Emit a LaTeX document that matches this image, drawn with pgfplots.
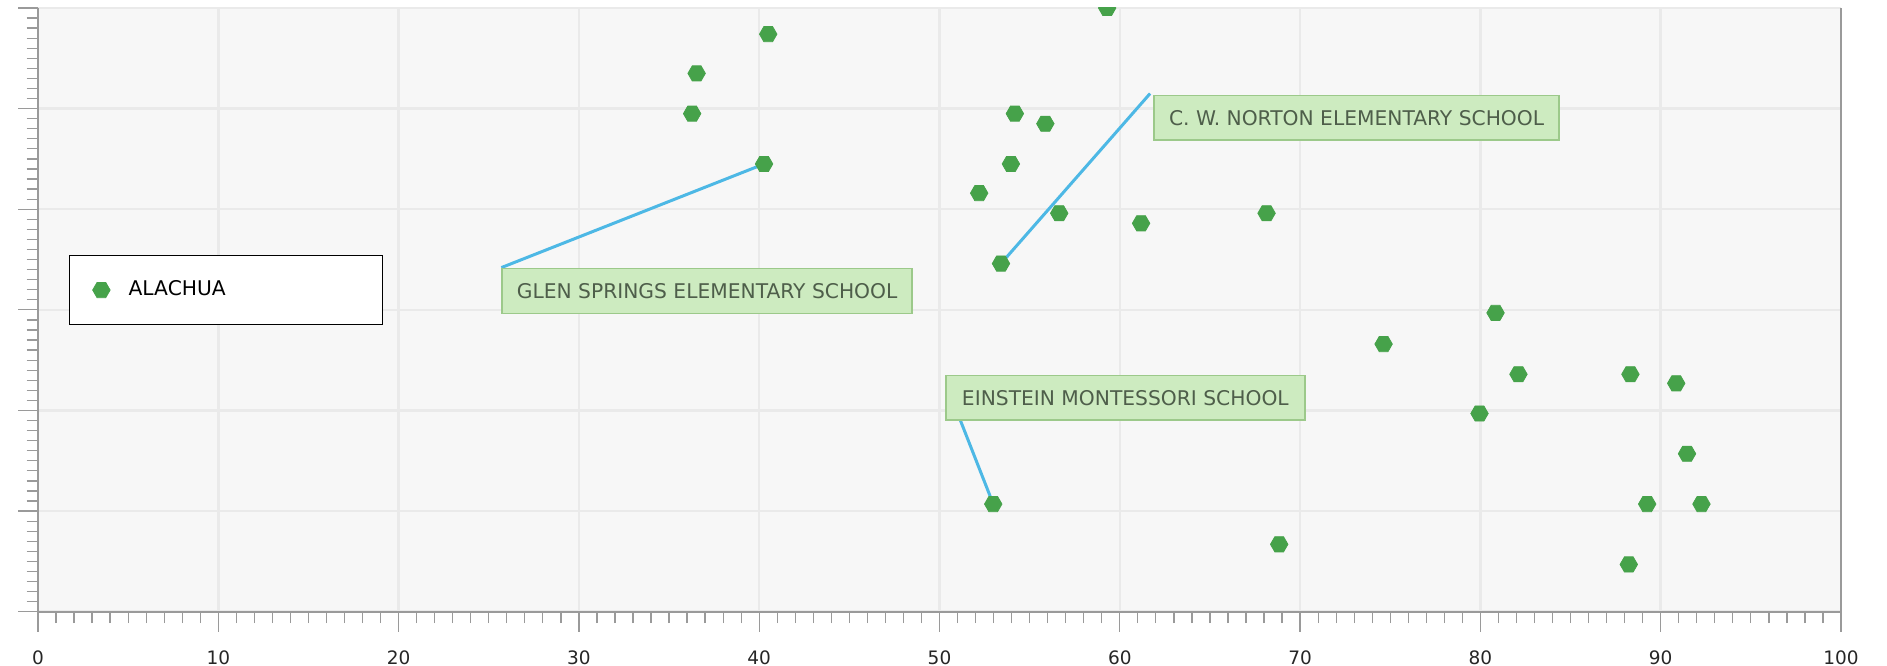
\documentclass[border=0pt]{standalone}
\usepackage{pgfplots}
\pgfplotsset{compat=1.18}
\usepackage{fontspec}
\setmainfont{DejaVu Sans}
\definecolor{ptgreen}{HTML}{46A24A}
\definecolor{bgcol}{HTML}{F7F7F7}
\definecolor{gridcol}{HTML}{EAEAEA}
\definecolor{axcol}{HTML}{9A9A9A}
\definecolor{boxfill}{HTML}{CDEBC0}
\definecolor{boxdraw}{HTML}{9CC98A}
\definecolor{boxtext}{HTML}{4E5E4A}
\definecolor{leader}{HTML}{4DB8E5}
\pgfdeclareplotmark{hexagon}{%
  \pgfpathmoveto{\pgfpointpolar{0}{\pgfplotmarksize}}%
  \pgfpathlineto{\pgfpointpolar{60}{\pgfplotmarksize}}%
  \pgfpathlineto{\pgfpointpolar{120}{\pgfplotmarksize}}%
  \pgfpathlineto{\pgfpointpolar{180}{\pgfplotmarksize}}%
  \pgfpathlineto{\pgfpointpolar{240}{\pgfplotmarksize}}%
  \pgfpathlineto{\pgfpointpolar{300}{\pgfplotmarksize}}%
  \pgfpathclose
  \pgfusepathqfillstroke}
\newcommand{\lblfont}{\fontsize{8.1}{9.5}\selectfont}
\begin{document}
\begin{tikzpicture}
\path[use as bounding box] (-15.2pt,-21.7pt) rectangle (739.6pt,244.7pt);
\begin{axis}[
  at={(0,0)}, anchor=south west,
  scale only axis, width=721.2pt, height=241.5pt,
  xmin=0, xmax=100, ymin=0, ymax=6,
  clip marker paths=true,
  axis x line*=bottom, axis y line*=box, ytick pos=left,
  axis line style={draw=axcol, line width=0.8pt},
  axis background/.style={fill=bgcol},
  xtick={0,10,...,100}, ytick={0,1,...,6},
  minor x tick num=9, minor y tick num=9,
  tick align=outside,
  major tick length=8pt, minor tick length=4.6pt,
  every tick/.style={draw=axcol, line width=0.5pt},
  grid=major,
  major grid style={draw=gridcol, line width=1pt},
  yticklabels={},
  /pgf/number format/assume math mode=true,
  xticklabel style={font=\fontsize{7.4}{8.5}\selectfont, text=black!85, yshift=-4pt},
  legend style={at={(0.017,0.591)}, anchor=north west, draw=black, line width=0.6pt,
    fill=white, inner xsep=9.3pt, inner ysep=10pt, column sep=7.4pt,
    nodes={inner sep=0pt, font=\lblfont, text=black}},
  legend cell align=left,
]
% leader lines and labels
\draw[leader, line width=1.2pt] (axis cs:25.7,3.42) -- (axis cs:40.27,4.45);
\draw[leader, line width=1.2pt] (axis cs:61.68,5.15) -- (axis cs:53.41,3.46);
\draw[leader, line width=1.2pt] (axis cs:51.14,1.91) -- (axis cs:52.98,1.07);
\node[anchor=north west, fill=boxfill, draw=boxdraw, line width=0.6pt, inner sep=0pt,
  minimum width=164pt, minimum height=18pt, font=\lblfont, text=boxtext]
  at (axis cs:25.7,3.42) {GLEN SPRINGS ELEMENTARY SCHOOL};
\node[anchor=north west, fill=boxfill, draw=boxdraw, line width=0.6pt, inner sep=0pt,
  minimum width=162pt, minimum height=17.7pt, font=\lblfont, text=boxtext]
  at (axis cs:61.86,5.136) {C. W. NORTON ELEMENTARY SCHOOL};
\node[anchor=north west, fill=boxfill, draw=boxdraw, line width=0.6pt, inner sep=0pt,
  minimum width=143.6pt, minimum height=17.7pt, font=\lblfont, text=boxtext]
  at (axis cs:50.31,2.353) {EINSTEIN MONTESSORI SCHOOL};
\addplot[only marks, mark=hexagon, mark size=3.5pt,
  mark options={fill=ptgreen, draw=ptgreen, line width=0.3pt}]
  coordinates {
  (59.3,6.0) (40.50,5.74) (36.53,5.35) (36.28,4.95) (40.27,4.45)
  (54.18,4.95) (55.87,4.85) (53.96,4.45) (52.20,4.16) (56.64,3.96)
  (61.18,3.86) (68.14,3.96) (53.41,3.46) (80.84,2.97) (74.63,2.66)
  (82.11,2.36) (88.32,2.36) (90.86,2.27) (79.95,1.97) (91.46,1.57)
  (52.98,1.07) (89.25,1.07) (92.26,1.07) (68.84,0.67) (88.23,0.47)
  };
\addlegendentry{ALACHUA\hspace*{53.3pt}}
\end{axis}
\end{tikzpicture}
\end{document}
